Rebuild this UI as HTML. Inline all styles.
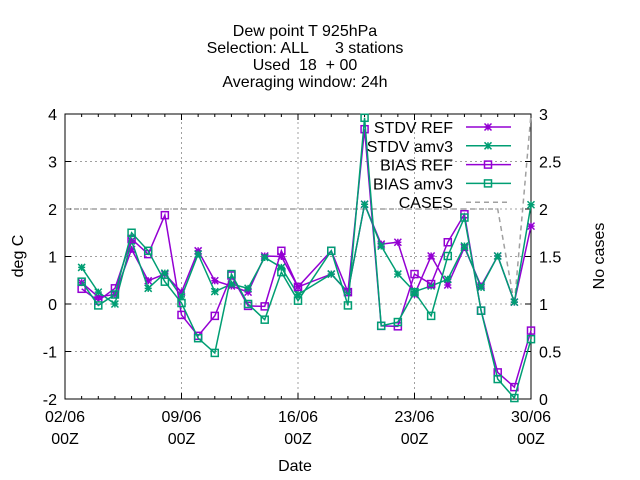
<!DOCTYPE html>
<html><head><meta charset="utf-8"><style>
body{margin:0;background:#fff}
svg{display:block;font-family:"Liberation Sans",sans-serif}
</style></head><body>
<svg id="chart" width="640" height="480">
<g font-size="16" text-anchor="middle" fill="#000">
<text x="305" y="36">Dew point T 925hPa</text>
<text x="305" y="53" xml:space="preserve">Selection: ALL      3 stations</text>
<text x="305" y="70" xml:space="preserve">Used  18  + 00</text>
<text x="305" y="87">Averaging window: 24h</text>
</g>
<g id="grid"></g>
<g id="axes"></g>
<g id="series"></g>
<g id="legend"></g>
<text x="295" y="471" font-size="16" text-anchor="middle">Date</text>
<text transform="translate(23,256) rotate(-90)" font-size="16" text-anchor="middle">deg C</text>
<text transform="translate(604,256) rotate(-90)" font-size="16" text-anchor="middle">No cases</text>
</svg>
<script>
const stdvRef=[0.45,0.15,0.2,1.15,0.49,0.63,0.25,1.12,0.49,0.38,0.25,1.01,1.0,0.36,0.63,0.25,2.1,1.26,1.3,0.2,1.01,0.4,1.19,0.38,1.01,0.04,1.64];
const stdvAmv=[0.77,0.25,0.0,1.33,0.33,0.65,0.15,1.05,0.26,0.42,0.33,0.98,0.77,0.2,0.63,0.25,2.1,1.22,0.63,0.26,0.38,0.52,1.22,0.35,1.01,0.04,2.09];
const biasRef=[0.32,0.07,0.33,1.37,1.05,1.87,-0.23,-0.67,-0.25,0.6,-0.04,-0.05,1.12,0.36,1.12,0.25,3.68,-0.46,-0.47,0.63,0.42,1.3,1.89,-0.14,-1.44,-1.75,-0.56];
const biasAmv=[0.47,-0.03,0.2,1.5,1.12,0.47,0.02,-0.72,-1.03,0.63,0.0,-0.33,0.67,0.07,1.12,-0.03,3.92,-0.46,-0.38,0.25,-0.25,1.01,1.82,-0.14,-1.58,-1.98,-0.74];
const caseDays=[0,1,2,3,4,5,6,7,8,9,10,11,12,13,14,15,16,17,18,19,20,21,22,23,24,25,26,27,28];
const cases=[2,2,2,2,2,2,2,2,2,2,2,2,2,2,2,2,2,2,2,2,2,2,2,2,2,2,2,1,3];
const yTicks=[-2,-1,0,1,2,3,4];
const y2Ticks=[0,0.5,1,1.5,2,2.5,3];
const xTickDays=[0,7,14,21,28];
const xTickLabels=["02/06","09/06","16/06","23/06","30/06"];
// day index 0 = 02/06
const dataDays=[1,2,3,4,5,6,7,8,9,10,11,12,13,14,16,17,18,19,20,21,22,23,24,25,26,27,28];
const X0=65,X1=531,Y0=399,Y1=114;
const xs=d=>X0+(X1-X0)*d/28;
const ys=v=>Y0-(Y0-Y1)*(v+2)/6;
const y2s=v=>Y0-(Y0-Y1)*v/3;
const NS="http://www.w3.org/2000/svg";
function mk(t,a,p){const e=document.createElementNS(NS,t);for(const k in a)e.setAttribute(k,a[k]);p.appendChild(e);return e;}
const grid=document.getElementById('grid'),axes=document.getElementById('axes'),ser=document.getElementById('series'),leg=document.getElementById('legend');
yTicks.forEach(v=>{const y=ys(v);
 if(v>-2&&v<4){const g=mk('line',{x1:X0,x2:X1,y1:y,y2:y,stroke:'#a0a0a0','stroke-dasharray':'2,3'},grid);}
 mk('line',{x1:X0,x2:X0+6,y1:y,y2:y,stroke:'#000'},axes);
 const t=mk('text',{x:X0-8,y:y+6,'font-size':16,'text-anchor':'end'},axes);t.textContent=v;
 });
y2Ticks.forEach(v=>{const y=y2s(v);
 mk('line',{x1:X1-6,x2:X1,y1:y,y2:y,stroke:'#000'},axes);
 const t=mk('text',{x:X1+8,y:y+6,'font-size':16},axes);t.textContent=v;
 });
xTickDays.forEach((d,i)=>{const x=xs(d);
 if(d>0&&d<28){const g=mk('line',{x1:x,x2:x,y1:Y0,y2:Y1,stroke:'#a0a0a0','stroke-dasharray':'2,3'},grid);}
 const t=mk('text',{x:x,y:422,'font-size':16,'text-anchor':'middle'},axes);t.textContent=xTickLabels[i];
 
 const t2=mk('text',{x:x,y:444,'font-size':16,'text-anchor':'middle'},axes);t2.textContent='00Z';
 });
for(let d=0;d<=28;d++){const x=xs(d);mk('line',{x1:x,x2:x,y1:Y0,y2:Y0-(d%7?3:6),stroke:'#000'},axes);mk('line',{x1:x,x2:x,y1:Y1,y2:Y1+(d%7?3:6),stroke:'#000'},axes);}
const frame=mk('rect',{x:X0,y:Y1,width:X1-X0,height:Y0-Y1,fill:'none',stroke:'#000'},axes);

function star(x,y,c,p){const r=3.5;mk('path',{d:`M${x-r},${y}H${x+r}M${x},${y-r}V${y+r}M${x-r},${y-r}L${x+r},${y+r}M${x-r},${y+r}L${x+r},${y-r}`,stroke:c,'stroke-width':1.5,fill:'none'},p);}
function sq(x,y,c,p){mk('rect',{x:x-3.5,y:y-3.5,width:7,height:7,stroke:c,'stroke-width':1.5,fill:'none'},p);}
const cg=mk('polyline',{points:caseDays.map((d,i)=>xs(d)+','+y2s(cases[i])).join(' '),fill:'none',stroke:'#a0a0a0','stroke-width':1.5,'stroke-dasharray':'5,4'},ser);

const S=[[stdvRef,'#9400d3',star,'stdv-ref'],[stdvAmv,'#009e73',star,'stdv-amv3'],[biasRef,'#9400d3',sq,'bias-ref'],[biasAmv,'#009e73',sq,'bias-amv3']];
S.forEach(([vals,c,m,n])=>{const g=mk('g',{},ser);
 
 mk('polyline',{points:vals.map((v,i)=>xs(dataDays[i])+','+ys(v)).join(' '),fill:'none',stroke:c,'stroke-width':1.5},g);
 vals.forEach((v,i)=>m(xs(dataDays[i]),ys(v),c,g));});
const L=[['STDV REF','#9400d3',star],['STDV amv3','#009e73',star],['BIAS REF','#9400d3',sq],['BIAS amv3','#009e73',sq],['CASES','#a0a0a0',null]];
L.forEach(([t,c,m],i)=>{const y=127+i*18.8;const g=mk('g',{},leg);
 
 const tx=mk('text',{x:453,y:y+6,'font-size':16,'text-anchor':'end'},g);tx.textContent=t;
 if(m){mk('line',{x1:466,x2:511,y1:y,y2:y,stroke:c,'stroke-width':1.5},g);m(488,y,c,g);}
 else mk('line',{x1:466,x2:511,y1:y,y2:y,stroke:c,'stroke-width':1.5,'stroke-dasharray':'5,4'},g);});
</script>
</body></html>
